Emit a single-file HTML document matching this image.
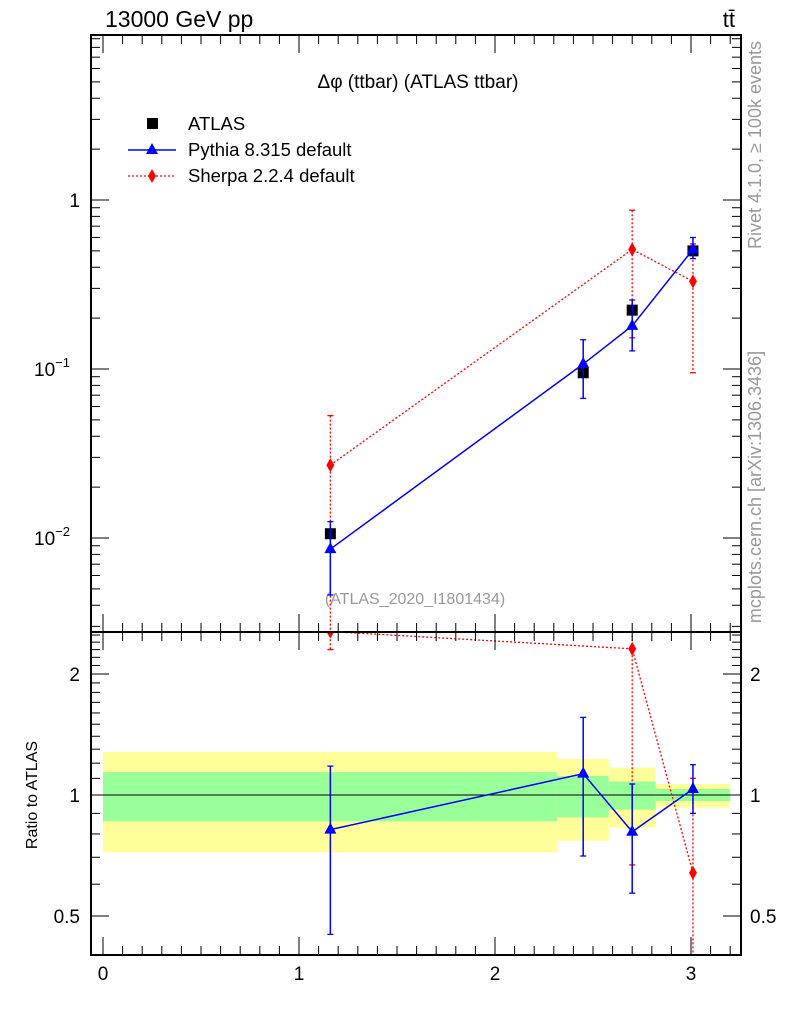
<!DOCTYPE html>
<html><head><meta charset="utf-8"><style>
body{margin:0;background:#fff;font-family:"Liberation Sans",sans-serif}
svg text{font-family:"Liberation Sans","DejaVu Sans",sans-serif}
</style></head><body>
<svg id="c" width="786" height="1024" xmlns="http://www.w3.org/2000/svg">
<text x="105" y="27" font-size="23">13000 GeV pp</text>
<text x="735" y="27" font-size="22" text-anchor="end">tt̄</text>
<text x="418" y="88" font-size="19" text-anchor="middle">Δφ (ttbar) (ATLAS ttbar)</text>
<text x="415" y="604" font-size="16" fill="#999" text-anchor="middle">(ATLAS_2020_I1801434)</text>
<text transform="translate(761,145) rotate(-90)" font-size="18" fill="#999" text-anchor="middle">Rivet 4.1.0, ≥ 100k events</text>
<text transform="translate(761,487) rotate(-90)" font-size="18" fill="#999" text-anchor="middle">mcplots.cern.ch [arXiv:1306.3436]</text>
<text transform="translate(37,795) rotate(-90)" font-size="16" text-anchor="middle">Ratio to ATLAS</text>
<g>
<rect x="147" y="118" width="11" height="11" fill="#000"/>
<text x="188" y="130" font-size="18.5">ATLAS</text>
<line x1="128" y1="150" x2="176" y2="150" stroke="#00f" stroke-width="1.5"/>
<polygon points="152,143 158,154 146,154" fill="#00f"/>
<text x="188" y="156" font-size="18.5">Pythia 8.315 default</text>
<line x1="128" y1="176" x2="176" y2="176" stroke="#f00" stroke-width="1.3" stroke-dasharray="2,2"/>
<polygon points="152,169 156,176 152,183 148,176" fill="#f00"/>
<text x="188" y="182" font-size="18.5">Sherpa 2.2.4 default</text>
</g>
</svg>
<script>
const xs=[1.16,2.45,2.7,3.01];
const atlas=[0.0106,0.095,0.223,0.5];
const pythia=[0.0086,0.107,0.18,0.51];
const pythiaUp=[0.0125,0.149,0.256,0.6];
const pythiaDn=[0.0046,0.067,0.128,0.45];
const sherpaX=[1.16,2.7,3.01];
const sherpa=[0.027,0.51,0.33];
const sherpaUp=[0.053,0.87,0.55];
const sherpaDn=[0.001,0.153,0.095];
const rPythia=[0.82,1.13,0.81,1.035];
const rPythiaUp=[1.18,1.56,1.065,1.19];
const rPythiaDn=[0.45,0.705,0.57,0.9];
const rSherpa=[2.55,2.31,0.64];
const rSherpaUp=[3,3,1.1];
const rSherpaDn=[2.3,0.67,0.3];
const binEdges=[0,2.316,2.58,2.82,3.2];
const yellowHi=[1.28,1.23,1.17,1.065];
const yellowLo=[0.72,0.77,0.83,0.93];
const greenHi=[1.14,1.115,1.08,1.035];
const greenLo=[0.86,0.88,0.92,0.966];
const xTicks=[0,1,2,3];
const ns="http://www.w3.org/2000/svg";
const svg=document.getElementById('c');
const L=91,R=741,T=35,M=632,B=955;
const X=v=>103+v*196;
const Y=v=>200-Math.log10(v)*169;
const YR=v=>795-Math.log10(v)*402;
function mk(t,a,p){const e=document.createElementNS(ns,t);for(const k in a)e.setAttribute(k,a[k]);(p||svg).appendChild(e);return e;}
const defs=mk('defs',{});
const c1=mk('clipPath',{id:'cm'},defs);mk('rect',{x:L,y:T,width:R-L,height:M-T},c1);
const c2=mk('clipPath',{id:'cr'},defs);mk('rect',{x:L,y:M,width:R-L,height:B-M},c2);
const gm=mk('g',{'clip-path':'url(#cm)'});


const gr=mk('g',{'clip-path':'url(#cr)'});


for(let i=0;i<4;i++){
 const x0=X(binEdges[i]),x1=X(binEdges[i+1]);
 const y=mk('rect',{x:x0,y:YR(yellowHi[i]),width:x1-x0,height:YR(yellowLo[i])-YR(yellowHi[i]),fill:'#ffff99'},gr);
 
 
 const g=mk('rect',{x:x0,y:YR(greenHi[i]),width:x1-x0,height:YR(greenLo[i])-YR(greenHi[i]),fill:'#99ff99'},gr);
 
 
}
mk('line',{x1:L,x2:R,y1:YR(1),y2:YR(1),stroke:'#000','stroke-width':1},gr);
function series(g,xv,yv,up,dn,fy,color,dash,marker,name){
 const pts=xv.map((x,i)=>X(x)+','+fy(yv[i])).join(' ');
 const pl=mk('polyline',{points:pts,fill:'none',stroke:color,'stroke-width':dash?1.3:1.5,'stroke-dasharray':dash?'2,2':'none'},g);
 
 
 xv.forEach((x,i)=>{
  const cx=X(x),cy=fy(yv[i]);
  mk('line',{x1:cx,x2:cx,y1:fy(up[i]),y2:fy(dn[i]),stroke:color,'stroke-width':dash?1.3:1.5,'stroke-dasharray':dash?'2,2':'none'},g);
  mk('line',{x1:cx-3,x2:cx+3,y1:fy(up[i]),y2:fy(up[i]),stroke:color,'stroke-width':1.3},g);
  mk('line',{x1:cx-3,x2:cx+3,y1:fy(dn[i]),y2:fy(dn[i]),stroke:color,'stroke-width':1.3},g);
  let m;
  if(marker==='tri')m=mk('polygon',{points:`${cx},${cy-7} ${cx+6},${cy+4} ${cx-6},${cy+4}`,fill:color},g);
  else m=mk('polygon',{points:`${cx},${cy-7} ${cx+4},${cy} ${cx},${cy+7} ${cx-4},${cy}`,fill:color},g);
  
  
 });
}
xs.forEach((x,i)=>{const r=mk('rect',{x:X(x)-5.5,y:Y(atlas[i])-5.5,width:11,height:11,fill:'#000'},gm);
 
 });
series(gm,sherpaX,sherpa,sherpaUp,sherpaDn,Y,'#f00',true,'dia','sherpa');
series(gm,xs,pythia,pythiaUp,pythiaDn,Y,'#00f',false,'tri','pythia');
series(gr,sherpaX,rSherpa,rSherpaUp,rSherpaDn,YR,'#f00',true,'dia','sherpa-ratio');
series(gr,xs,rPythia,rPythiaUp,rPythiaDn,YR,'#00f',false,'tri','pythia-ratio');
mk('rect',{x:L,y:T,width:R-L,height:M-T,fill:'none',stroke:'#000','stroke-width':2});
mk('rect',{x:L,y:M,width:R-L,height:B-M,fill:'none',stroke:'#000','stroke-width':2});
for(let k=0;k<=32;k++){const v=k/10;const x=X(v);if(x<L||x>R)continue;const maj=k%10===0;const len=maj?18:9;
 [T,M].forEach(y=>mk('line',{x1:x,x2:x,y1:y,y2:y+len,stroke:'#000','stroke-width':1}));
 [M,B].forEach(y=>mk('line',{x1:x,x2:x,y1:y,y2:y-len,stroke:'#000','stroke-width':1}));}
xTicks.forEach(v=>{const t=mk('text',{x:X(v),y:980,'font-size':19,'text-anchor':'middle'});t.textContent=v;
 
 });
for(let e=-3;e<=0;e++)for(let m=1;m<=9;m++){const v=m*Math.pow(10,e);const y=Y(v);if(y<T||y>M)continue;const len=m===1?18:9;
 mk('line',{x1:L,x2:L+len,y1:y,y2:y,stroke:'#000'});mk('line',{x1:R,x2:R-len,y1:y,y2:y,stroke:'#000'});}
[[1,'1',''],[0.1,'10','−1'],[0.01,'10','−2']].forEach(([v,b,s])=>{const t=mk('text',{x:s?70:80,y:Y(v)+7,'font-size':19,'text-anchor':'end'});
 t.textContent=b;if(s){const sp=mk('tspan',{dy:-9,'font-size':13},t);sp.textContent=s;}
 
 });
for(let v=0.4;v<=2.55;v+=0.1){const y=YR(v);if(y<M||y>B)continue;const maj=Math.abs(v-0.5)<1e-6||Math.abs(v-1)<1e-6||Math.abs(v-2)<1e-6;const len=maj?18:9;
 mk('line',{x1:L,x2:L+len,y1:y,y2:y,stroke:'#000'});mk('line',{x1:R,x2:R-len,y1:y,y2:y,stroke:'#000'});}
[[2,'2'],[1,'1'],[0.5,'0.5']].forEach(([v,s])=>{
 const a=mk('text',{x:80,y:YR(v)+7,'font-size':19,'text-anchor':'end'});a.textContent=s;
 
 
 const b=mk('text',{x:750,y:YR(v)+7,'font-size':19});b.textContent=s;
 
 });
</script>
</body></html>
